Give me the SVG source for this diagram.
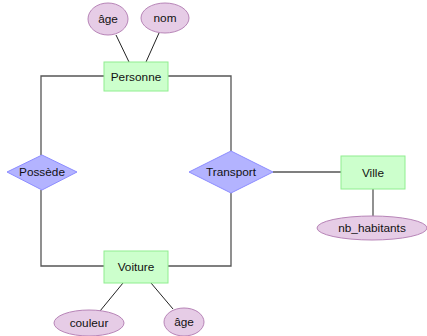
<svg xmlns="http://www.w3.org/2000/svg" width="427" height="336" viewBox="0 0 427 336">
  <style>
    .entity { fill: #ccffcc; stroke: #90ee90; stroke-width: 1; }
    .relation { fill: #b3b3ff; stroke: #8c8cff; stroke-width: 1; }
    .attr { fill: #e6cce6; stroke: #b784b7; stroke-width: 1; }
    .link { fill: none; stroke: #555555; stroke-width: 1.3; }
    .attr-link { fill: none; stroke: #222222; stroke-width: 1; }
    text { font-family: "Liberation Sans", "DejaVu Sans", sans-serif; font-size: 11.8px; fill: #111; text-anchor: middle; dominant-baseline: central; }
  </style>
  <rect width="427" height="336" fill="#ffffff"/>

  <g id="connectors">
    <polyline class="link" points="104,76 41,76 41,155"/>
    <polyline class="link" points="168,76 231,76 231,151"/>
    <polyline class="link" points="41,190 41,266 104,266"/>
    <polyline class="link" points="168,266 231,266 231,193"/>
    <line class="link" x1="273" y1="172" x2="341" y2="172"/>
    <line class="link" x1="373" y1="189" x2="373" y2="217"/>
    <line class="attr-link" x1="116" y1="35" x2="129" y2="62"/>
    <line class="attr-link" x1="159" y1="33" x2="146" y2="62"/>
    <line class="attr-link" x1="100" y1="311" x2="123" y2="283"/>
    <line class="attr-link" x1="151" y1="283" x2="173" y2="309"/>
  </g>

  <g id="personne">
    <rect class="entity" x="104" y="62" width="64" height="29"/>
    <text x="136" y="76.5">Personne</text>
  </g>
  <g id="personne-age">
    <ellipse class="attr" cx="108" cy="19" rx="20" ry="16"/>
    <text x="108" y="19">âge</text>
  </g>
  <g id="personne-nom">
    <ellipse class="attr" cx="165" cy="18" rx="24" ry="15"/>
    <text x="165" y="18">nom</text>
  </g>

  <g id="possede">
    <polygon class="relation" points="7,172 42,155 77,172 42,190"/>
    <text x="42" y="172">Possède</text>
  </g>

  <g id="transport">
    <polygon class="relation" points="189,172 231,151 273,172 231,193"/>
    <text x="231" y="172">Transport</text>
  </g>

  <g id="ville">
    <rect class="entity" x="341" y="156" width="64" height="33"/>
    <text x="373" y="172.5">Ville</text>
  </g>
  <g id="ville-nb-habitants">
    <ellipse class="attr" cx="372" cy="228" rx="55" ry="12"/>
    <text x="372" y="228">nb_habitants</text>
  </g>

  <g id="voiture">
    <rect class="entity" x="104" y="251" width="64" height="32"/>
    <text x="136" y="267">Voiture</text>
  </g>
  <g id="voiture-couleur">
    <ellipse class="attr" cx="89" cy="323" rx="35" ry="13"/>
    <text x="89" y="323">couleur</text>
  </g>
  <g id="voiture-age">
    <ellipse class="attr" cx="184" cy="322" rx="20" ry="14"/>
    <text x="184" y="322">âge</text>
  </g>
</svg>
